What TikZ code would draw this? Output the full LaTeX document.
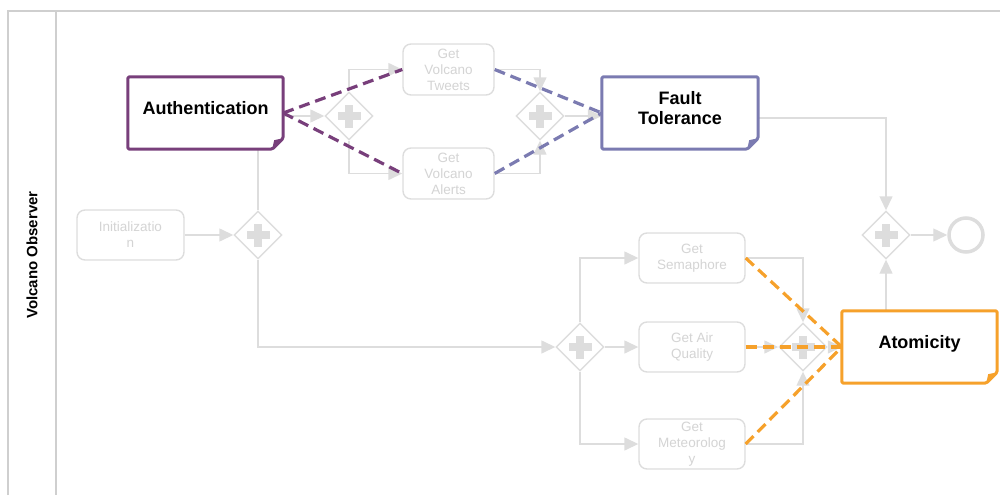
\documentclass[tikz,border=0pt]{standalone}
\usepackage{fontspec}
\setmainfont{Liberation Sans}
\usetikzlibrary{shapes.geometric,arrows.meta}
\definecolor{lgray}{HTML}{DDDDDD}
\definecolor{tgray}{HTML}{D4D4D4}
\definecolor{fgray}{HTML}{CFCFCF}
\definecolor{authc}{HTML}{783F7B}
\definecolor{ftc}{HTML}{7B7BB1}
\definecolor{atc}{HTML}{F6A12B}
\newcommand\FoldBox[2]{%
  \fill[white] (#1.north west) rectangle (#1.south east);
  \draw[draw=#2, line width=3pt, rounded corners=1.5pt, line join=round]
    (#1.north west) -- (#1.north east) -- ([yshift=11pt]#1.south east)
    -- ([xshift=-11pt]#1.south east) -- (#1.south west) -- cycle;
  \fill[#2] ([yshift=11pt]#1.south east) -- ([xshift=-11pt]#1.south east)
    -- ([xshift=-9pt,yshift=9pt]#1.south east) -- cycle;
}
\begin{document}
\begin{tikzpicture}[x=1pt,y=-1pt,
  frame/.style={draw=fgray, line width=1.5pt},
  task/.style={draw=lgray, line width=1.4pt, rounded corners=8pt, text=tgray,
    align=center, font=\fontsize{13.5}{16}\selectfont, inner sep=0pt, fill=white},
  gate/.style={diamond, draw=lgray, line width=1.4pt, minimum size=48pt,
    inner sep=0pt, aspect=1, fill=white},
  bigbox/.style={minimum width=155pt, minimum height=72pt, inner sep=0pt},
  biglbl/.style={font=\fontsize{18}{20}\selectfont\bfseries, align=center, text=black, inner sep=0pt},
  flow/.style={draw=lgray, line width=1.4pt, -{Triangle[length=14pt,width=13pt]}},
  plain/.style={draw=lgray, line width=1.4pt},
  assoc/.style={line width=3.2pt, dash pattern=on 11pt off 6pt}
]
\useasboundingbox (0,0) rectangle (1000,495);
% pool frame
\draw[frame] (8,495) -- (8,11) -- (1000,11);
\draw[frame] (56,11) -- (56,495);
\node[rotate=90, font=\fontsize{15}{18}\selectfont\bfseries] (pool) at (32,255) {Volcano Observer};

% tasks
\node[task, minimum width=107pt, minimum height=50pt] (init) at (130.5,235) {Initializatio\\n};
\node[task, minimum width=91pt, minimum height=51pt] (tweets) at (448.5,69.5) {Get\\Volcano\\Tweets};
\node[task, minimum width=91pt, minimum height=51pt] (alerts) at (448.5,173.5) {Get\\Volcano\\Alerts};
\node[task, minimum width=106pt, minimum height=50pt] (sema) at (692,258) {Get\\Semaphore};
\node[task, minimum width=106pt, minimum height=50pt] (air) at (692,347) {Get Air\\Quality};
\node[task, minimum width=106pt, minimum height=50pt] (met) at (692,444) {Get\\Meteorolog\\y};

% big boxes (positions)
\node[bigbox] (auth) at (205.5,113) {};
\node[bigbox, minimum width=156pt] (ft) at (680,113) {};
\node[bigbox] (atom) at (919.5,347) {};

% gateways
\node[gate] (g1) at (258,235) {};
\node[gate] (g2) at (349,116) {};
\node[gate] (g3) at (580,347) {};
\node[gate] (g4) at (540,116) {};
\node[gate] (g5) at (886,235) {};
\node[gate] (g6) at (803,347) {};
\foreach \g in {g1,g2,g3,g4,g5,g6}{
  \fill[lgray] ([xshift=-11.5pt,yshift=-4pt]\g.center) rectangle ([xshift=11.5pt,yshift=4pt]\g.center);
  \fill[lgray] ([xshift=-4pt,yshift=-11.5pt]\g.center) rectangle ([xshift=4pt,yshift=11.5pt]\g.center);
}
\node[circle, draw=lgray, line width=3.5pt, minimum size=34pt, inner sep=0pt] (endev) at (966,235) {};

% sequence flows
\draw[flow] (init.east) -- (g1.west);
\draw[plain] (g1.north) -- (g1.north |- auth.south);
\draw[flow] (g1.south) |- (g3.west);
\draw[flow] (g2.west -| auth.east) -- (g2.west);
\draw[flow] (g2.north) |- (tweets.west);
\draw[flow] (g2.south) |- (alerts.west);
\draw[flow] (tweets.east) -| (g4.north);
\draw[flow] (alerts.east) -| (g4.south);
\draw[flow] (g4.east) -- (g4.east -| ft.west);
\draw[flow] ([yshift=-5pt]ft.east) -| (g5.north);
\draw[flow] (g5.east) -- (endev.west);
\draw[flow] (g5.south |- atom.north) -- (g5.south);
\draw[flow] (g3.north) |- (sema.west);
\draw[flow] (g3.east) -- (air.west);
\draw[flow] (g3.south) |- (met.west);
\draw[flow] (sema.east) -| (g6.north);
\draw[flow] (air.east) -- (g6.west);
\draw[flow] (met.east) -| (g6.south);
\draw[flow] (g6.east) -- (atom.west);

% colored boxes
\FoldBox{auth}{authc}
\FoldBox{ft}{ftc}
\FoldBox{atom}{atc}
\node[biglbl, anchor=base] (authlbl) at (205.5,114) {Authentication};
\node[biglbl] (ftlbl) at (680,108) {Fault\\Tolerance};
\node[biglbl, anchor=base] (atomlbl) at (919.5,348) {Atomicity};

% associations
\draw[assoc, authc] (auth.east) -- (tweets.west);
\draw[assoc, authc] (auth.east) -- (alerts.west);
\draw[assoc, ftc] (tweets.east) -- (ft.west);
\draw[assoc, ftc] (alerts.east) -- (ft.west);
\draw[assoc, atc] (sema.east) -- (atom.west);
\draw[assoc, atc] (air.east) -- (atom.west);
\draw[assoc, atc] (met.east) -- (atom.west);
\end{tikzpicture}
\end{document}
